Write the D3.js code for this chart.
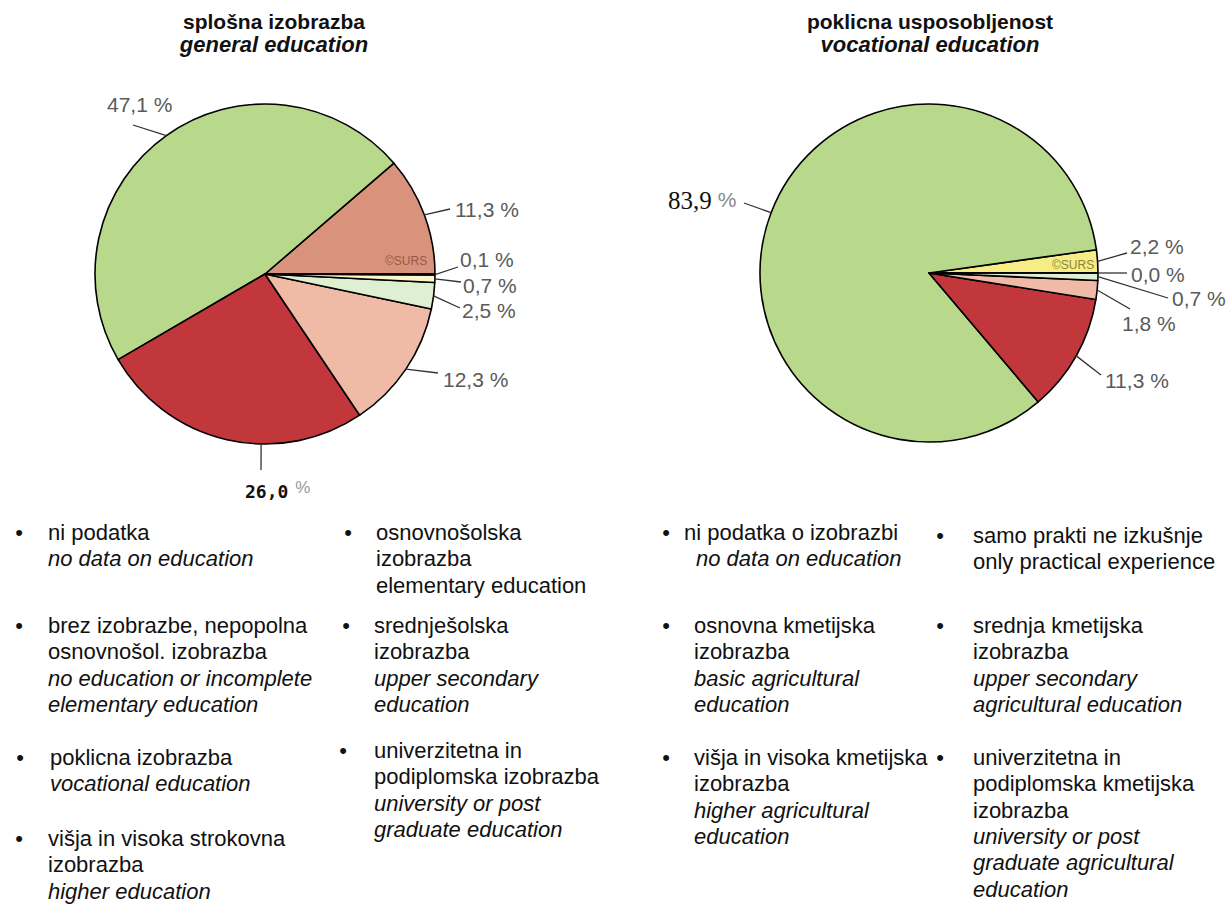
<!DOCTYPE html>
<html>
<head>
<meta charset="utf-8">
<script src="https://cdn.jsdelivr.net/npm/d3@7"></script>
<style>
  body { margin: 0; background: #fff; }
  svg { display: block; font-family: "Liberation Sans", Arial, sans-serif; }
</style>
</head>
<body>
<div id="chart-area"></div>
<script>
// shares in % (drawn counter-clockwise from 3 o'clock)
var generalValues = [11.3, 47.1, 26.0, 12.3, 2.5, 0.7, 0.1];
var generalColors = ["#d9937c", "#b8d98c", "#c1373c", "#efbba7", "#dff0d2", "#fdf8cc", "#ffffff"];

var vocationalValues = [2.2, 83.9, 11.3, 1.8, 0.7, 0.0];
var vocationalColors = ["#f7ed86", "#b8d98c", "#c1373c", "#efbba7", "#dff0d2", "#ffffff"];

var titles = [
    ["splošna izobrazba", "general education"],
    ["poklicna usposobljenost", "vocational education"]
];

// legend texts: [plain lines, italic lines]
var generalLegend = [
    [["ni podatka"], ["no data on education"]],
    [["brez izobrazbe, nepopolna", "osnovnošol. izobrazba"], ["no education or incomplete", "elementary education"]],
    [["poklicna izobrazba"], ["vocational education"]],
    [["višja in visoka strokovna", "izobrazba"], ["higher education"]],
    [["osnovnošolska", "izobrazba", "elementary education"], []],
    [["srednješolska", "izobrazba"], ["upper secondary", "education"]],
    [["univerzitetna in", "podiplomska izobrazba"], ["university or post", "graduate education"]]
];
var vocationalLegend = [
    [["ni podatka o izobrazbi"], ["no data on education"]],
    [["osnovna kmetijska", "izobrazba"], ["basic agricultural", "education"]],
    [["višja in visoka kmetijska", "izobrazba"], ["higher agricultural", "education"]],
    [["samo prakti ne izkušnje", "only practical experience"], []],
    [["srednja kmetijska", "izobrazba"], ["upper secondary", "agricultural education"]],
    [["univerzitetna in", "podiplomska kmetijska", "izobrazba"], ["university or post", "graduate agricultural", "education"]]
];

// layout: label text anchor + leader end, relative to pie centre
var generalLabelPos = [
    {tx: 190, ty: -57, lx: 185, ly: -65},
    {tx: -158, ty: -162, lx: -132, ly: -149},
    {tx: -20, ty: 224, lx: -4, ly: 196, a: 181.3, style: "mono"},
    {tx: 178, ty: 113, lx: 173, ly: 99},
    {tx: 197, ty: 44, lx: 195, ly: 34},
    {tx: 198, ty: 19, lx: 196, ly: 8},
    {tx: 195, ty: -7, lx: 193, ly: -7}
];
var vocationalLabelPos = [
    {tx: 201, ty: -19, lx: 198, ly: -20},
    {tx: -261, ty: -64, lx: -185, ly: -70, style: "serif"},
    {tx: 176, ty: 115, lx: 172, ly: 102},
    {tx: 193, ty: 58, lx: 201, ly: 36},
    {tx: 243, ty: 33, lx: 239, ly: 25},
    {tx: 202, ty: 9, lx: 198, ly: 0}
];

var generalLegendPos = [[19, 48, 540], [19, 48, 633], [20, 50, 765], [19, 48, 846], [348, 376, 540], [346, 374, 633], [343, 374, 758]];
var vocationalLegendPos = [[666, 684, 540, 12], [666, 694, 633], [666, 694, 765], [940, 973, 543], [940, 973, 633], [940, 973, 765]];

var svg = d3.select("#chart-area").append("svg")
    .attr("width", 1227)
    .attr("height", 904);

var fmt = (v) => d3.format(".1f")(v).replace(".", ",");

function drawPie(opts) {
    var r = opts.r;
    var g = svg.append("g").attr("transform", "translate(" + opts.cx + "," + opts.cy + ")");

    var pie = d3.pie().sort(null).value((d) => d)
        .startAngle(Math.PI / 2)
        .endAngle(Math.PI / 2 - 2 * Math.PI);
    var arc = d3.arc().innerRadius(0).outerRadius(r);
    var arcs = pie(opts.values);

    g.selectAll("path.slice")
        .data(arcs)
        .enter().append("path")
        .attr("class", "slice")
        .attr("d", arc)
        .attr("fill", (d, i) => opts.colors[i])
        .attr("stroke", "#000")
        .attr("stroke-width", 1.6)
        .attr("stroke-linejoin", "round");

    // copyright mark
    g.append("text")
        .attr("x", opts.surs[0])
        .attr("y", opts.surs[1])
        .attr("font-size", 12)
        .attr("fill", opts.surs[2])
        .attr("opacity", 0.85)
        .text("©SURS");

    // leader lines
    g.selectAll("line.leader")
        .data(arcs)
        .enter().append("line")
        .attr("class", "leader")
        .each(function (d, i) {
            var p = opts.labels[i];
            var a = p.a != null ? p.a * Math.PI / 180 : (d.startAngle + d.endAngle) / 2;
            d3.select(this)
                .attr("x1", r * Math.sin(a))
                .attr("y1", -r * Math.cos(a))
                .attr("x2", p.lx)
                .attr("y2", p.ly);
        })
        .attr("stroke", "#333")
        .attr("stroke-width", 1.3);

    // value labels
    arcs.forEach((d, i) => {
        var p = opts.labels[i];
        var t = g.append("text").attr("x", p.tx).attr("y", p.ty);
        if (p.style === "mono") {
            t.append("tspan")
                .attr("font-family", "'DejaVu Sans Mono', monospace")
                .attr("font-weight", "bold")
                .attr("font-size", 18)
                .attr("fill", "#111")
                .text(fmt(d.data));
            t.append("tspan")
                .attr("dx", 7).attr("dy", -5)
                .attr("font-size", 17)
                .attr("fill", "#999")
                .text("%");
        } else if (p.style === "serif") {
            t.append("tspan")
                .attr("font-family", "'Liberation Serif', 'Times New Roman', serif")
                .attr("font-size", 25)
                .attr("fill", "#111")
                .text(fmt(d.data));
            t.append("tspan")
                .attr("dx", 6).attr("dy", -2)
                .attr("font-size", 21)
                .attr("fill", "#888")
                .text("%");
        } else {
            t.attr("font-size", 21)
                .attr("fill", "#5a5a5a")
                .text(fmt(d.data) + " %");
        }
    });
}

function drawTitle(lines, cx) {
    svg.append("text")
        .attr("x", cx).attr("y", 29)
        .attr("text-anchor", "middle")
        .attr("font-weight", "bold")
        .attr("font-size", 21)
        .attr("fill", "#111")
        .text(lines[0]);
    svg.append("text")
        .attr("x", cx).attr("y", 52)
        .attr("text-anchor", "middle")
        .attr("font-weight", "bold")
        .attr("font-style", "italic")
        .attr("font-size", 22)
        .attr("fill", "#111")
        .text(lines[1]);
}

function drawLegend(items, pos) {
    var lh = 26.3;
    items.forEach((item, i) => {
        var p = pos[i];
        var g = svg.append("g");
        g.append("text")
            .attr("x", p[0]).attr("y", p[2])
            .attr("text-anchor", "middle")
            .attr("font-size", 22)
            .attr("fill", "#111")
            .text("•");
        var lines = item[0].map((s) => ({s: s, it: false}))
            .concat(item[1].map((s) => ({s: s, it: true})));
        g.selectAll("text.line")
            .data(lines)
            .enter().append("text")
            .attr("class", "line")
            .attr("x", (d, j) => p[1] + (j > 0 && p[3] ? p[3] : 0))
            .attr("y", (d, j) => p[2] + j * lh)
            .attr("font-size", 22)
            .attr("font-style", (d) => d.it ? "italic" : "normal")
            .attr("fill", "#111")
            .text((d) => d.s);
    });
}

drawTitle(titles[0], 274);
drawTitle(titles[1], 930);

drawPie({
    cx: 265, cy: 274, r: 170,
    values: generalValues,
    colors: generalColors,
    labels: generalLabelPos,
    surs: [120, -9, "#8e4f44"]
});
drawPie({
    cx: 929, cy: 273, r: 169,
    values: vocationalValues,
    colors: vocationalColors,
    labels: vocationalLabelPos,
    surs: [123, -4, "#7d7030"]
});

drawLegend(generalLegend, generalLegendPos);
drawLegend(vocationalLegend, vocationalLegendPos);
</script>
</body>
</html>
